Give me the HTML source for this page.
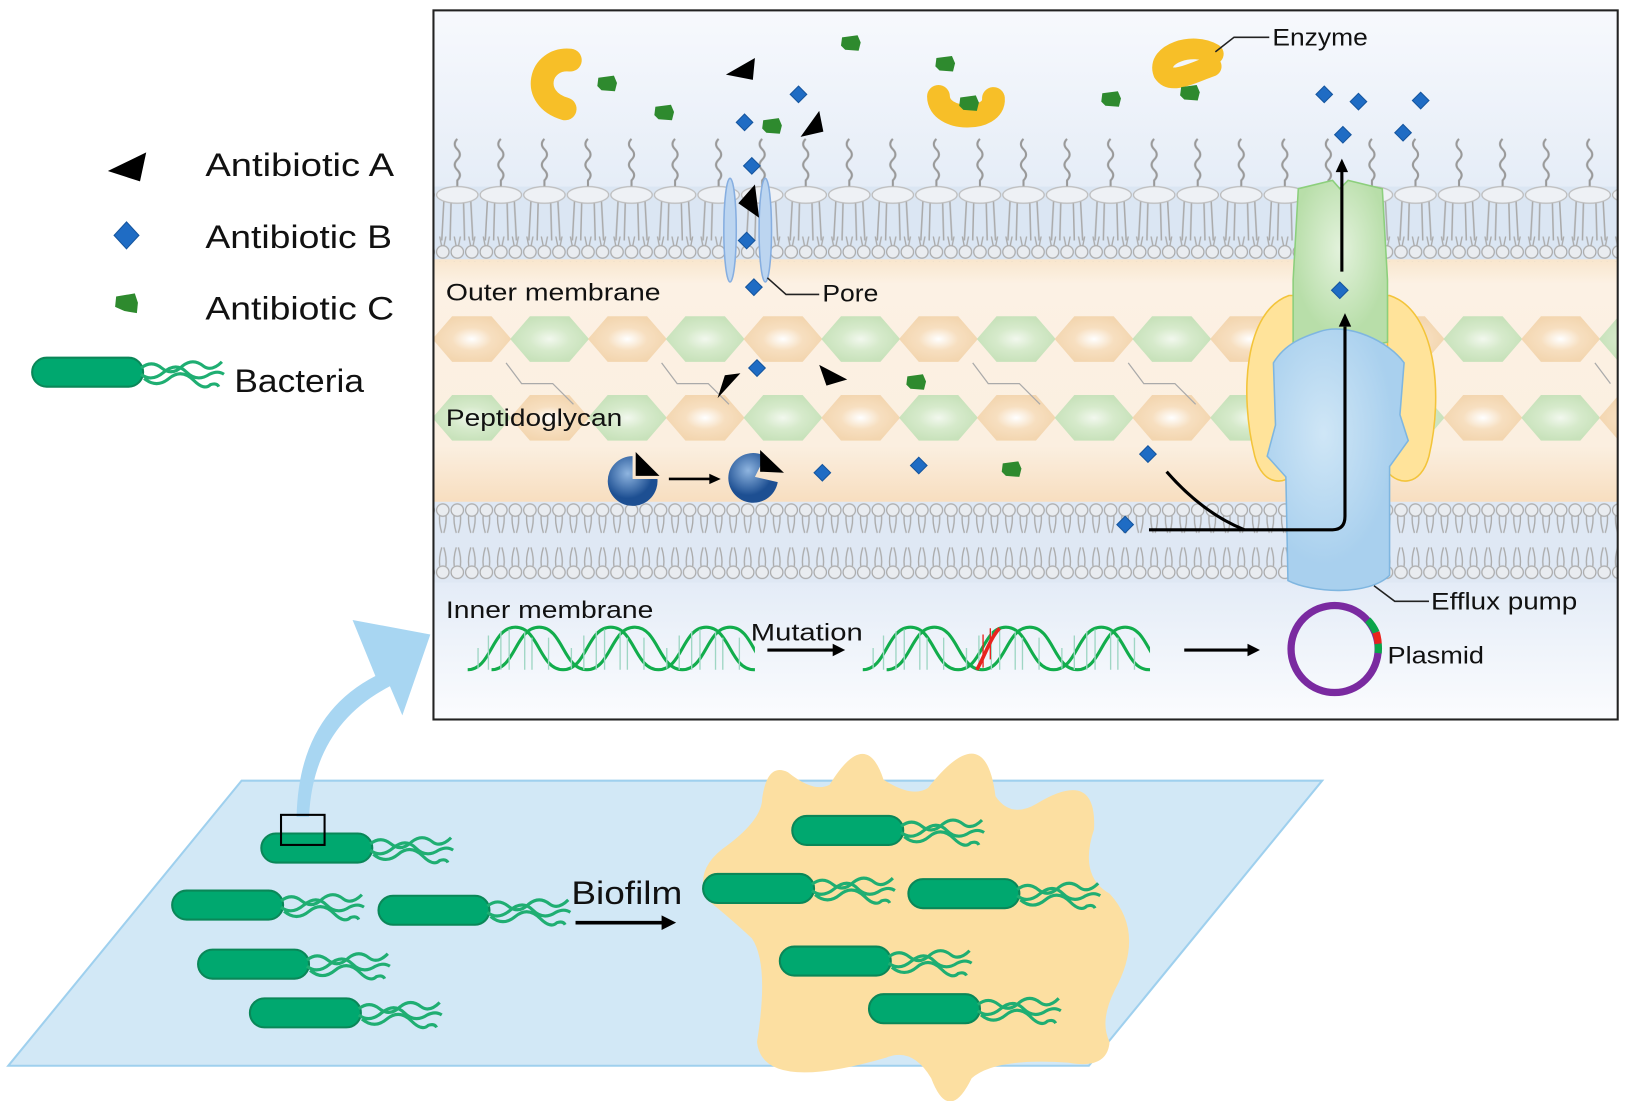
<!DOCTYPE html>
<html><head><meta charset="utf-8"><style>
html,body{margin:0;padding:0;background:#fff;width:1626px;height:1101px;overflow:hidden}
svg{display:block}
text{font-family:"Liberation Sans",sans-serif;fill:#111}
</style></head><body>
<svg width="1626" height="1101" viewBox="0 0 1568 1062" preserveAspectRatio="none" xmlns="http://www.w3.org/2000/svg">
<defs>
<linearGradient id="sky" x1="0" y1="0" x2="0" y2="1">
<stop offset="0" stop-color="#f7f9fd"/><stop offset="1" stop-color="#dde7f4"/></linearGradient>
<linearGradient id="peri" x1="0" y1="0" x2="0" y2="1">
<stop offset="0" stop-color="#f9e6cd"/><stop offset="0.1" stop-color="#fcf1e4"/><stop offset="0.75" stop-color="#fbefe0"/><stop offset="1" stop-color="#f7dcbc"/></linearGradient>
<linearGradient id="low" x1="0" y1="0" x2="0" y2="1">
<stop offset="0" stop-color="#e4ecf7"/><stop offset="1" stop-color="#fbfcfe"/></linearGradient>
<radialGradient id="ho"><stop offset="0" stop-color="#fff"/><stop offset="0.5" stop-color="#f7dfc0"/><stop offset="1" stop-color="#f3d6b0"/></radialGradient>
<radialGradient id="hg"><stop offset="0" stop-color="#f2f8ee"/><stop offset="0.5" stop-color="#d6eacb"/><stop offset="1" stop-color="#c8e2bb"/></radialGradient>
<radialGradient id="pb" cx="0.4" cy="0.4"><stop offset="0" stop-color="#cfe6f6"/><stop offset="1" stop-color="#a9d0ee"/></radialGradient>
<radialGradient id="pg" cx="0.5" cy="0.4"><stop offset="0" stop-color="#e3f2dc"/><stop offset="1" stop-color="#b8dea9"/></radialGradient>
<radialGradient id="pac" cx="0.4" cy="0.35"><stop offset="0" stop-color="#8fb5e0"/><stop offset="1" stop-color="#1d4f92"/></radialGradient>
<pattern id="om" x="420" y="130" width="42" height="120" patternUnits="userSpaceOnUse">
<path d="M21 4 q-5 5 0 10 q5 5 0 10 q-5 5 0 10 q5 5 0 10 v8" fill="none" stroke="#999" stroke-width="2"/>
<path d="M8 64 l-2 38 M15 64 l-1 38 M27 64 l1 38 M34 64 l2 38" stroke="#aaa" stroke-width="1.5" fill="none"/>
<ellipse cx="21" cy="58" rx="20" ry="8" fill="#eef1f5" stroke="#bbb" stroke-width="1.2"/>
</pattern>
<pattern id="omb" x="420" y="228" width="14" height="24" patternUnits="userSpaceOnUse">
<path d="M4 0 l2 10 M10 0 l-2 10" stroke="#aaa" stroke-width="1.3"/>
<circle cx="7" cy="15" r="6" fill="#e9ecf0" stroke="#aaa" stroke-width="1.2"/>
</pattern>
<pattern id="im" x="420" y="484" width="14" height="78" patternUnits="userSpaceOnUse">
<path d="M4 12 q-1 8 2 18 M10 12 q1 8 -2 18 M4 62 q-1 -8 2 -18 M10 62 q1 -8 -2 -18" stroke="#aaa" stroke-width="1.3" fill="none"/>
<circle cx="7" cy="8" r="6" fill="#e9ecf0" stroke="#aaa" stroke-width="1.2"/>
<circle cx="7" cy="68" r="6" fill="#e9ecf0" stroke="#aaa" stroke-width="1.2"/>
</pattern>
<clipPath id="box"><rect x="418" y="10" width="1142" height="684"/></clipPath>
<clipPath id="d1"><rect x="440" y="590" width="288" height="70"/></clipPath>
<clipPath id="d2"><rect x="822" y="590" width="287" height="70"/></clipPath>
<polygon id="hex" points="-38,0 -19,-22 19,-22 38,0 19,22 -19,22"/>
<path id="dia" d="M0 -8 L8 0 L0 8 L-8 0Z" fill="#1f6cc4" stroke="#15559e" stroke-width="1"/>
<path id="grn" d="M-9 -6 L6 -8 L9 -1 L7 7 L-6 6 L-10 2Z" fill="#2e8a2e"/>
<g id="bac">
<rect x="0" y="0" width="107" height="28" rx="14" fill="#00a86f" stroke="#0a8758" stroke-width="2"/>
<path d="M105 10 q10 -8 20 0 q10 8 20 -2 q10 -8 20 0 q8 6 18 -4 M105 16 q10 8 22 -2 q12 -10 22 0 q10 10 22 2 q8 -4 14 0 M108 20 q12 10 24 0 q12 -10 24 2 q10 10 16 4 q6 -2 8 2" fill="none" stroke="#1fae72" stroke-width="3"/>
</g>
<g id="helix">
<path d="M0 41 C23 41 23 0 46 0 C69 0 69 41 92 41 C115 41 115 0 138 0 C161 0 161 41 184 41 C207 41 207 0 230 0 C253 0 253 41 276 41 C299 41 299 0 322 0" fill="none" stroke="#12ad4c" stroke-width="3"/>
<path d="M23 41 C46 41 46 0 69 0 C92 0 92 41 115 41 C138 41 138 0 161 0 C184 0 184 41 207 41 C230 41 230 0 253 0 C276 0 276 41 299 41" fill="none" stroke="#12ad4c" stroke-width="3"/>
<path d="M10 20 v20 M20 8 v33 M32 4 v37 M40 2 v39 M55 4 v37 M62 10 v31 M78 10 v31 M100 20 v20 M112 8 v33 M124 4 v37 M132 2 v39 M147 4 v37 M154 10 v31 M170 10 v31 M192 20 v20 M204 8 v33 M216 4 v37 M224 2 v39 M239 4 v37 M246 10 v31 M262 10 v31" stroke="#9fd6c4" stroke-width="1.3"/>
</g>
</defs>

<!-- Legend -->
<path d="M104 165 L141 147 L135 175 Z" fill="#000"/>
<text x="198" y="170" font-size="31" textLength="182" lengthAdjust="spacingAndGlyphs">Antibiotic A</text>
<path d="M122 214 L134 227 L122 240 L110 227Z" fill="#1f6cc4" stroke="#15559e"/>
<text x="198" y="239" font-size="31" textLength="180" lengthAdjust="spacingAndGlyphs">Antibiotic B</text>
<path d="M112 286 L130 283 L133 292 L132 302 L120 300 L111 296Z" fill="#2e8a2e"/>
<text x="198" y="308" font-size="31" textLength="182" lengthAdjust="spacingAndGlyphs">Antibiotic C</text>
<use href="#bac" x="31" y="345"/>
<text x="226" y="378" font-size="31" textLength="125" lengthAdjust="spacingAndGlyphs">Bacteria</text>

<!-- Inset -->
<g clip-path="url(#box)">
<rect x="418" y="10" width="1142" height="250" fill="url(#sky)"/>
<rect x="418" y="250" width="1142" height="240" fill="url(#peri)"/>
<rect x="418" y="484" width="1142" height="80" fill="#dfe8f4"/>
<rect x="418" y="562" width="1142" height="132" fill="url(#low)"/>
<rect x="418" y="180" width="1142" height="70" fill="#dbe6f3"/>
<rect x="418" y="130" width="1142" height="120" fill="url(#om)"/>
<rect x="418" y="228" width="1142" height="24" fill="url(#omb)"/>
<rect x="418" y="484" width="1142" height="78" fill="url(#im)"/>
<g>
<use href="#hex" x="455" y="327" fill="url(#ho)"/><use href="#hex" x="530" y="327" fill="url(#hg)"/>
<use href="#hex" x="605" y="327" fill="url(#ho)"/><use href="#hex" x="680" y="327" fill="url(#hg)"/>
<use href="#hex" x="755" y="327" fill="url(#ho)"/><use href="#hex" x="830" y="327" fill="url(#hg)"/>
<use href="#hex" x="905" y="327" fill="url(#ho)"/><use href="#hex" x="980" y="327" fill="url(#hg)"/>
<use href="#hex" x="1055" y="327" fill="url(#ho)"/><use href="#hex" x="1130" y="327" fill="url(#hg)"/>
<use href="#hex" x="1205" y="327" fill="url(#ho)"/><use href="#hex" x="1355" y="327" fill="url(#ho)"/>
<use href="#hex" x="1430" y="327" fill="url(#hg)"/><use href="#hex" x="1505" y="327" fill="url(#ho)"/>
<use href="#hex" x="1580" y="327" fill="url(#hg)"/>
<use href="#hex" x="455" y="403" fill="url(#hg)"/><use href="#hex" x="530" y="403" fill="url(#ho)"/>
<use href="#hex" x="605" y="403" fill="url(#hg)"/><use href="#hex" x="680" y="403" fill="url(#ho)"/>
<use href="#hex" x="755" y="403" fill="url(#hg)"/><use href="#hex" x="830" y="403" fill="url(#ho)"/>
<use href="#hex" x="905" y="403" fill="url(#hg)"/><use href="#hex" x="980" y="403" fill="url(#ho)"/>
<use href="#hex" x="1055" y="403" fill="url(#hg)"/><use href="#hex" x="1130" y="403" fill="url(#ho)"/>
<use href="#hex" x="1205" y="403" fill="url(#hg)"/><use href="#hex" x="1355" y="403" fill="url(#hg)"/>
<use href="#hex" x="1430" y="403" fill="url(#ho)"/><use href="#hex" x="1505" y="403" fill="url(#hg)"/>
<use href="#hex" x="1580" y="403" fill="url(#ho)"/>
</g>
<path d="M488 350 l15 20 h30 l20 20 M638 350 l15 20 h30 l20 20 M938 350 l15 20 h30 l20 20 M1088 350 l15 20 h30 l20 20 M1538 350 l15 20" fill="none" stroke="#aaa" stroke-width="1.2"/>
</g>

<!-- pore -->
<ellipse cx="704" cy="222" rx="6" ry="50" fill="#bcd5f0" stroke="#86aee0" stroke-width="1.5"/>
<ellipse cx="738" cy="222" rx="6" ry="50" fill="#bcd5f0" stroke="#86aee0" stroke-width="1.5"/>
<path d="M740 268 L758 284 H790" fill="none" stroke="#222" stroke-width="1.5"/>

<!-- enzymes -->
<path d="M550 58 C520 55 510 95 545 105" fill="none" stroke="#f7bf28" stroke-width="22" stroke-linecap="round"/>
<path d="M905 93 C905 118 960 118 958 95" fill="none" stroke="#f7bf28" stroke-width="22" stroke-linecap="round"/>
<path d="M1170 52 C1150 40 1115 52 1122 70 C1130 82 1150 70 1168 64" fill="none" stroke="#f7bf28" stroke-width="20" stroke-linecap="round"/>
<path d="M1172 50 L1190 36 H1224" fill="none" stroke="#222" stroke-width="1.5"/>

<!-- efflux pump -->
<path d="M1243 285 C1200 300 1195 380 1210 440 C1218 470 1240 468 1250 455 L1250 285Z" fill="#ffe39a" stroke="#f3c43a" stroke-width="1.5"/>
<path d="M1340 285 C1385 300 1392 380 1378 440 C1370 470 1348 468 1338 455 L1338 285Z" fill="#ffe39a" stroke="#f3c43a" stroke-width="1.5"/>
<path d="M1252 182 L1285 174 L1292 182 L1300 174 L1333 182 L1338 270 L1338 330 L1290 340 L1247 330 L1247 270Z" fill="url(#pg)" stroke="#8ccf7c" stroke-width="1.5"/>
<path d="M1272 320 C1300 310 1340 330 1354 350 L1350 400 L1358 425 L1340 450 L1340 555 C1320 575 1265 572 1242 560 L1240 460 L1222 440 L1230 410 L1228 350 C1240 330 1260 324 1272 320Z" fill="url(#pb)" stroke="#7fb6e0" stroke-width="1.5"/>
<path d="M1325 565 L1345 580 H1378" fill="none" stroke="#222" stroke-width="1.5"/>
<path d="M1108 511 H1285 Q1297 511 1297 498 V315" fill="none" stroke="#000" stroke-width="3"/>
<path d="M1291 315 L1297 302 L1303 315Z" fill="#000"/>
<path d="M1125 455 Q1160 495 1200 511" fill="none" stroke="#000" stroke-width="3"/>
<path d="M1294 262 V165" stroke="#000" stroke-width="3"/>
<path d="M1288 166 L1294 153 L1300 166Z" fill="#000"/>

<path d="M700 72 L728 56 L726 77Z M772 132 L790 107 L794 127Z M712 196 L728 178 L732 210Z M692 384 L699 362 L714 360Z M790 352 L817 366 L797 372Z" fill="#000"/>
<g>
<use href="#dia" x="770" y="91"/><use href="#dia" x="718" y="118"/><use href="#dia" x="725" y="160"/>
<use href="#dia" x="720" y="232"/><use href="#dia" x="727" y="277"/><use href="#dia" x="730" y="355"/>
<use href="#dia" x="793" y="456"/><use href="#dia" x="886" y="449"/><use href="#dia" x="1107" y="438"/>
<use href="#dia" x="1085" y="506"/><use href="#dia" x="1277" y="91"/><use href="#dia" x="1310" y="98"/>
<use href="#dia" x="1370" y="97"/><use href="#dia" x="1295" y="130"/><use href="#dia" x="1353" y="128"/>
<use href="#dia" x="1292" y="280"/>
</g>
<g>
<use href="#grn" x="586" y="81"/><use href="#grn" x="641" y="109"/><use href="#grn" x="745" y="122"/>
<use href="#grn" x="821" y="42"/><use href="#grn" x="912" y="62"/><use href="#grn" x="935" y="100"/>
<use href="#grn" x="1072" y="96"/><use href="#grn" x="1148" y="90"/><use href="#grn" x="884" y="369"/>
<use href="#grn" x="976" y="453"/>
</g>

<path d="M610 462 V440 A24 24 0 1 0 634 462Z" fill="url(#pac)"/>
<path d="M613 436 L613 459 L636 459Z" fill="#000"/>
<path d="M728 460 L738 440 A24 24 0 1 0 750 465Z" fill="url(#pac)"/>
<path d="M733 434 L733 455 L756 456Z" fill="#000"/>
<path d="M645 462 H685" stroke="#000" stroke-width="2.5"/><path d="M684 457 L695 462 L684 467Z" fill="#000"/>

<!-- DNA -->
<g clip-path="url(#d1)"><use href="#helix" x="451" y="605"/></g>
<g clip-path="url(#d2)"><use href="#helix" x="832" y="605"/></g>
<path d="M942 646 C950 632 955 615 964 606" fill="none" stroke="#e8231e" stroke-width="3.5"/>
<path d="M948 612 v32 M955 606 v30" stroke="#e8231e" stroke-width="1.3"/>
<path d="M740 627 H805" stroke="#000" stroke-width="3"/><path d="M803 621 L815 627 L803 633Z" fill="#000"/>
<path d="M1142 627 H1205" stroke="#000" stroke-width="3"/><path d="M1203 621 L1215 627 L1203 633Z" fill="#000"/>
<circle cx="1287" cy="626" r="42" fill="none" stroke="#7a2aa0" stroke-width="7"/>
<path d="M1319 598 A42 42 0 0 1 1327 610" stroke="#0aa54a" stroke-width="7" fill="none"/>
<path d="M1327 610 A42 42 0 0 1 1329 621" stroke="#e8231e" stroke-width="7" fill="none"/>
<path d="M1329 621 A42 42 0 0 1 1329 630" stroke="#0aa54a" stroke-width="7" fill="none"/>

<g font-size="23">
<text x="430" y="290" textLength="207" lengthAdjust="spacingAndGlyphs">Outer membrane</text>
<text x="430" y="411" textLength="170" lengthAdjust="spacingAndGlyphs">Peptidoglycan</text>
<text x="430" y="596" textLength="200" lengthAdjust="spacingAndGlyphs">Inner membrane</text>
<text x="793" y="291" textLength="54" lengthAdjust="spacingAndGlyphs">Pore</text>
<text x="1227" y="44" textLength="92" lengthAdjust="spacingAndGlyphs">Enzyme</text>
<text x="1380" y="588" textLength="141" lengthAdjust="spacingAndGlyphs">Efflux pump</text>
<text x="724" y="618" textLength="108" lengthAdjust="spacingAndGlyphs">Mutation</text>
<text x="1338" y="640" textLength="93" lengthAdjust="spacingAndGlyphs">Plasmid</text>
</g>
<rect x="418" y="10" width="1142" height="684" fill="none" stroke="#222" stroke-width="2"/>

<polygon points="233,753 1275,753 1050,1028 8,1028" fill="#d2e8f6" stroke="#9fd0ee" stroke-width="2"/>
<path d="M735 770 Q740 735 760 745 Q785 765 800 757 Q835 700 852 752 Q880 770 895 760 Q950 690 960 768 Q975 790 1000 775 Q1058 740 1055 800 Q1040 845 1070 862 Q1105 900 1075 955 Q1060 985 1070 1005 Q1068 1032 1030 1025 Q960 1020 937 1040 Q915 1085 898 1040 Q880 1010 855 1020 Q735 1055 730 1005 Q742 930 725 905 Q700 882 682 868 Q668 838 702 815 Q735 790 735 770Z" fill="#fcdfa1"/>
<path d="M286 788 Q288 690 362 652 L340 598 L415 612 L388 690 L376 662 Q302 700 298 788Z" fill="#a8d6f2"/>
<use href="#bac" x="252" y="804"/>
<rect x="271" y="786" width="42" height="29" fill="none" stroke="#000" stroke-width="2"/>
<use href="#bac" x="166" y="859"/>
<use href="#bac" x="365" y="864"/>
<use href="#bac" x="191" y="916"/>
<use href="#bac" x="241" y="963"/>
<use href="#bac" x="764" y="787"/>
<use href="#bac" x="678" y="843"/>
<use href="#bac" x="876" y="848"/>
<use href="#bac" x="752" y="913"/>
<use href="#bac" x="838" y="959"/>
<text x="551" y="872" font-size="31" textLength="107" lengthAdjust="spacingAndGlyphs">Biofilm</text>
<path d="M555 890 H640" stroke="#000" stroke-width="3.5"/><path d="M638 883 L652 890 L638 897Z" fill="#000"/>
</svg>
</body></html>
